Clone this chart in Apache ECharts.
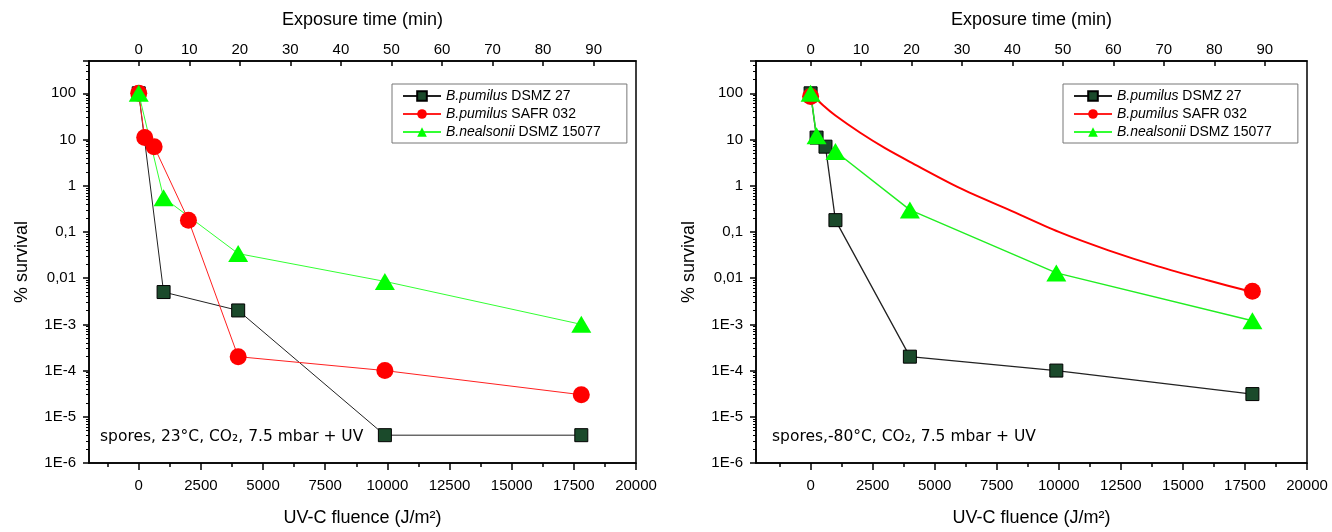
<!DOCTYPE html>
<html><head><meta charset="utf-8">
<script src="https://cdn.jsdelivr.net/npm/echarts@6/dist/echarts.min.js"></script>
<style>html,body{margin:0;padding:0;background:#fff}#c{width:1332px;height:532px}</style>
</head><body><div id="c"></div>
<script>
// ---- data ----
const fluenceTicks = [0, 2500, 5000, 7500, 10000, 12500, 15000, 17500, 20000];
const fluenceMinor = [-1250, 1250, 3750, 6250, 8750, 11250, 13750, 16250, 18750];
const timeTicks = [0, 10, 20, 30, 40, 50, 60, 70, 80, 90];
const yTickValues = [1e-6, 1e-5, 1e-4, 1e-3, 0.01, 0.1, 1, 10, 100];
const yTickLabels = ['1E-6', '1E-5', '1E-4', '1E-3', '0,01', '0,1', '1', '10', '100'];
const seriesNames = ['B.pumilus DSMZ 27', 'B.pumilus SAFR 032', 'B.nealsonii DSMZ 15077'];
const speciesItalic = ['B.pumilus', 'B.pumilus', 'B.nealsonii'];
const strainText = ['DSMZ 27', 'SAFR 032', 'DSMZ 15077'];

// left panel: 23 °C
const l_dsmz27_x = [0, 1000, 4000, 9900, 17800];
const l_dsmz27_y = [100, 0.005, 0.002, 4e-6, 4e-6];
const l_safr_x = [0, 240, 620, 2000, 4000, 9900, 17800];
const l_safr_y = [100, 11, 7, 0.18, 2e-4, 1e-4, 3e-5];
const l_neal_x = [0, 1000, 4000, 9900, 17800];
const l_neal_y = [100, 0.55, 0.034, 0.0085, 0.001];

// right panel: -80 °C
const r_dsmz27_x = [0, 240, 600, 1000, 4000, 9900, 17800];
const r_dsmz27_y = [100, 11, 7, 0.18, 2e-4, 1e-4, 3.1e-5];
const r_safr_x = [0, 17800];
const r_safr_y = [85, 0.0052];
const r_safrFit_x = [0, 500, 1000, 2000, 3000, 4000, 6000, 8000, 10000, 12000, 14000, 16000, 17800];
const r_safrFit_y = [100, 55, 33, 14, 6.5, 3.3, 0.9, 0.3, 0.1, 0.04, 0.018, 0.009, 0.005];
const r_neal_x = [0, 240, 1000, 4000, 9900, 17800];
const r_neal_y = [100, 12, 5.5, 0.3, 0.013, 0.0012];

const annotations = ['spores, 23\u00B0C, CO\u2082, 7.5 mbar + UV', 'spores,-80\u00B0C, CO\u2082, 7.5 mbar + UV'];

// ---- layout / style ----
const J_PER_MIN = 203.3;
const Y_MIN = 1e-6, Y_MAX = 500;
const panels = [
  { left: 89, right: 696, xmin: -2000 },
  { left: 756, right: 25, xmin: -2200 }
];
const FONT = 'Liberation Sans, Arial, sans-serif';
const AX = { color: '#000', width: 1.5 };
const pair = (xs, ys) => xs.map((x, i) => [x, ys[i]]);
const minorY = [];
for (let e = -6; e <= 2; e++) for (let k = 2; k <= 9; k++) { const v = k * Math.pow(10, e); if (v < Y_MAX) minorY.push(Math.log10(v)); }

const grid = [], xAxis = [], yAxis = [], series = [];
panels.forEach((p, gi) => {
  grid.push({ left: p.left, right: p.right, top: 61, bottom: 67, show: true, borderColor: '#000', borderWidth: 1.5, backgroundColor: 'transparent' });
  xAxis.push({ type: 'value', gridIndex: gi, position: 'bottom', min: p.xmin, max: 20000,
    name: 'UV-C fluence (J/m\u00B2)', nameLocation: 'middle', nameGap: 46,
    nameTextStyle: { fontFamily: FONT, fontSize: 18, color: '#000' },
    axisLine: { show: true, onZero: false, lineStyle: AX },
    axisTick: { show: true, inside: false, length: 7, lineStyle: AX, customValues: fluenceTicks },
    axisLabel: { show: true, margin: 15, fontFamily: FONT, fontSize: 15, color: '#000', customValues: fluenceTicks, formatter: v => String(v) },
    splitLine: { show: false } });
  xAxis.push({ type: 'value', gridIndex: gi, position: 'bottom', min: p.xmin, max: 20000,
    axisLine: { show: false, onZero: false },
    axisTick: { show: true, length: 4, lineStyle: AX, customValues: fluenceMinor },
    axisLabel: { show: false }, splitLine: { show: false } });
  xAxis.push({ type: 'value', gridIndex: gi, position: 'top', min: p.xmin / J_PER_MIN, max: 20000 / J_PER_MIN,
    name: 'Exposure time (min)', nameLocation: 'middle', nameGap: 32,
    nameTextStyle: { fontFamily: FONT, fontSize: 18, color: '#000' },
    axisLine: { show: true, onZero: false, lineStyle: AX },
    axisTick: { show: true, inside: true, length: 5, lineStyle: AX, customValues: timeTicks },
    axisLabel: { show: true, margin: 4, fontFamily: FONT, fontSize: 15, color: '#000', customValues: timeTicks, formatter: v => String(v) },
    splitLine: { show: false } });
  yAxis.push({ type: 'log', logBase: 10, gridIndex: gi, min: Y_MIN, max: Y_MAX, interval: 1,
    name: '% survival', nameLocation: 'middle', nameGap: 58, nameRotate: 90,
    nameTextStyle: { fontFamily: FONT, fontSize: 18, color: '#000' },
    axisLine: { show: true, onZero: false, lineStyle: AX },
    axisTick: { show: true, length: 6, lineStyle: AX },
    axisLabel: { show: true, margin: 13, fontFamily: FONT, fontSize: 15, color: '#000',
      formatter: v => { const i = yTickValues.findIndex(t => Math.abs(Math.log10(t) - Math.log10(v)) < 1e-6); return i >= 0 ? yTickLabels[i] : ''; } },
    splitLine: { show: false }, minorTick: { show: false } });
  yAxis.push({ type: 'value', gridIndex: gi, min: Math.log10(Y_MIN), max: Math.log10(Y_MAX), position: 'left',
    axisLine: { show: false, onZero: false },
    axisTick: { show: true, length: 3, lineStyle: { color: '#000', width: 1 }, customValues: minorY },
    axisLabel: { show: false }, splitLine: { show: false } });
});

const xi = gi => gi * 3, yi = gi => gi * 2;
const sq = { symbol: 'rect', symbolSize: 13, itemStyle: { color: '#1b4a2b', borderColor: '#000', borderWidth: 1 } };
const ci = { symbol: 'circle', symbolSize: 17, itemStyle: { color: '#ff0000', borderColor: '#ff0000', borderWidth: 0 } };
const tr = { symbol: 'triangle', symbolSize: [20, 17], itemStyle: { color: '#00ff00', borderColor: '#00ee00', borderWidth: 0 } };

function ln(name, gi, data, sym, lineColor, lw, extra) {
  return Object.assign({ type: 'line', name, xAxisIndex: xi(gi), yAxisIndex: yi(gi), data: data,
    showSymbol: true, showAllSymbol: true, animation: false, lineStyle: { color: lineColor, width: lw },
    emphasis: { disabled: true } }, sym, extra || {});
}
series.push(ln(seriesNames[0], 0, pair(l_dsmz27_x, l_dsmz27_y), sq, '#222', 1));
series.push(ln(seriesNames[1], 0, pair(l_safr_x, l_safr_y), ci, '#ff2020', 1));
series.push(ln(seriesNames[2], 0, pair(l_neal_x, l_neal_y), tr, '#33ff33', 1));
series.push(ln(seriesNames[0], 1, pair(r_dsmz27_x, r_dsmz27_y), sq, '#222', 1.3));
series.push(ln(seriesNames[1], 1, pair(r_safrFit_x, r_safrFit_y), { symbol: 'none', itemStyle: { color: '#ff0000' } }, '#ff0000', 2, { smooth: 0.3, showSymbol: false }));
series.push(ln(seriesNames[1], 1, pair(r_safr_x, r_safr_y), ci, '#ff0000', 0, { lineStyle: { width: 0, opacity: 0 } }));
series.push(ln(seriesNames[2], 1, pair(r_neal_x, r_neal_y), tr, '#22ee22', 1.5));

const legendRich = { i: { fontStyle: 'italic', fontFamily: FONT, fontSize: 14, color: '#000' }, n: { fontFamily: FONT, fontSize: 14, color: '#000' } };
const legendFmt = name => { const k = seriesNames.indexOf(name); return '{i|' + speciesItalic[k] + '}{n| ' + strainText[k] + '}'; };
const legends = [392, 1063].map(lx => ({
  orient: 'vertical', left: lx, top: 84, padding: [5, 26, 4, 10], itemGap: 4, itemWidth: 38, itemHeight: 12,
  borderColor: '#777', borderWidth: 1, selectedMode: false, data: seriesNames, formatter: legendFmt,
  textStyle: { rich: legendRich, fontFamily: FONT, fontSize: 14, color: '#000' }
}));

const graphic = [
  { type: 'text', left: 100, top: 429, style: { text: annotations[0], font: '15.5px "DejaVu Sans", Verdana, sans-serif', fill: '#000' } },
  { type: 'text', left: 772, top: 429, style: { text: annotations[1], font: '15.5px "DejaVu Sans", Verdana, sans-serif', fill: '#000' } }
];

const chart = echarts.init(document.getElementById('c'), null, { renderer: 'canvas' });
chart.setOption({ animation: false, backgroundColor: '#fff', grid, xAxis, yAxis, series, legend: legends, graphic });
</script></body></html>
